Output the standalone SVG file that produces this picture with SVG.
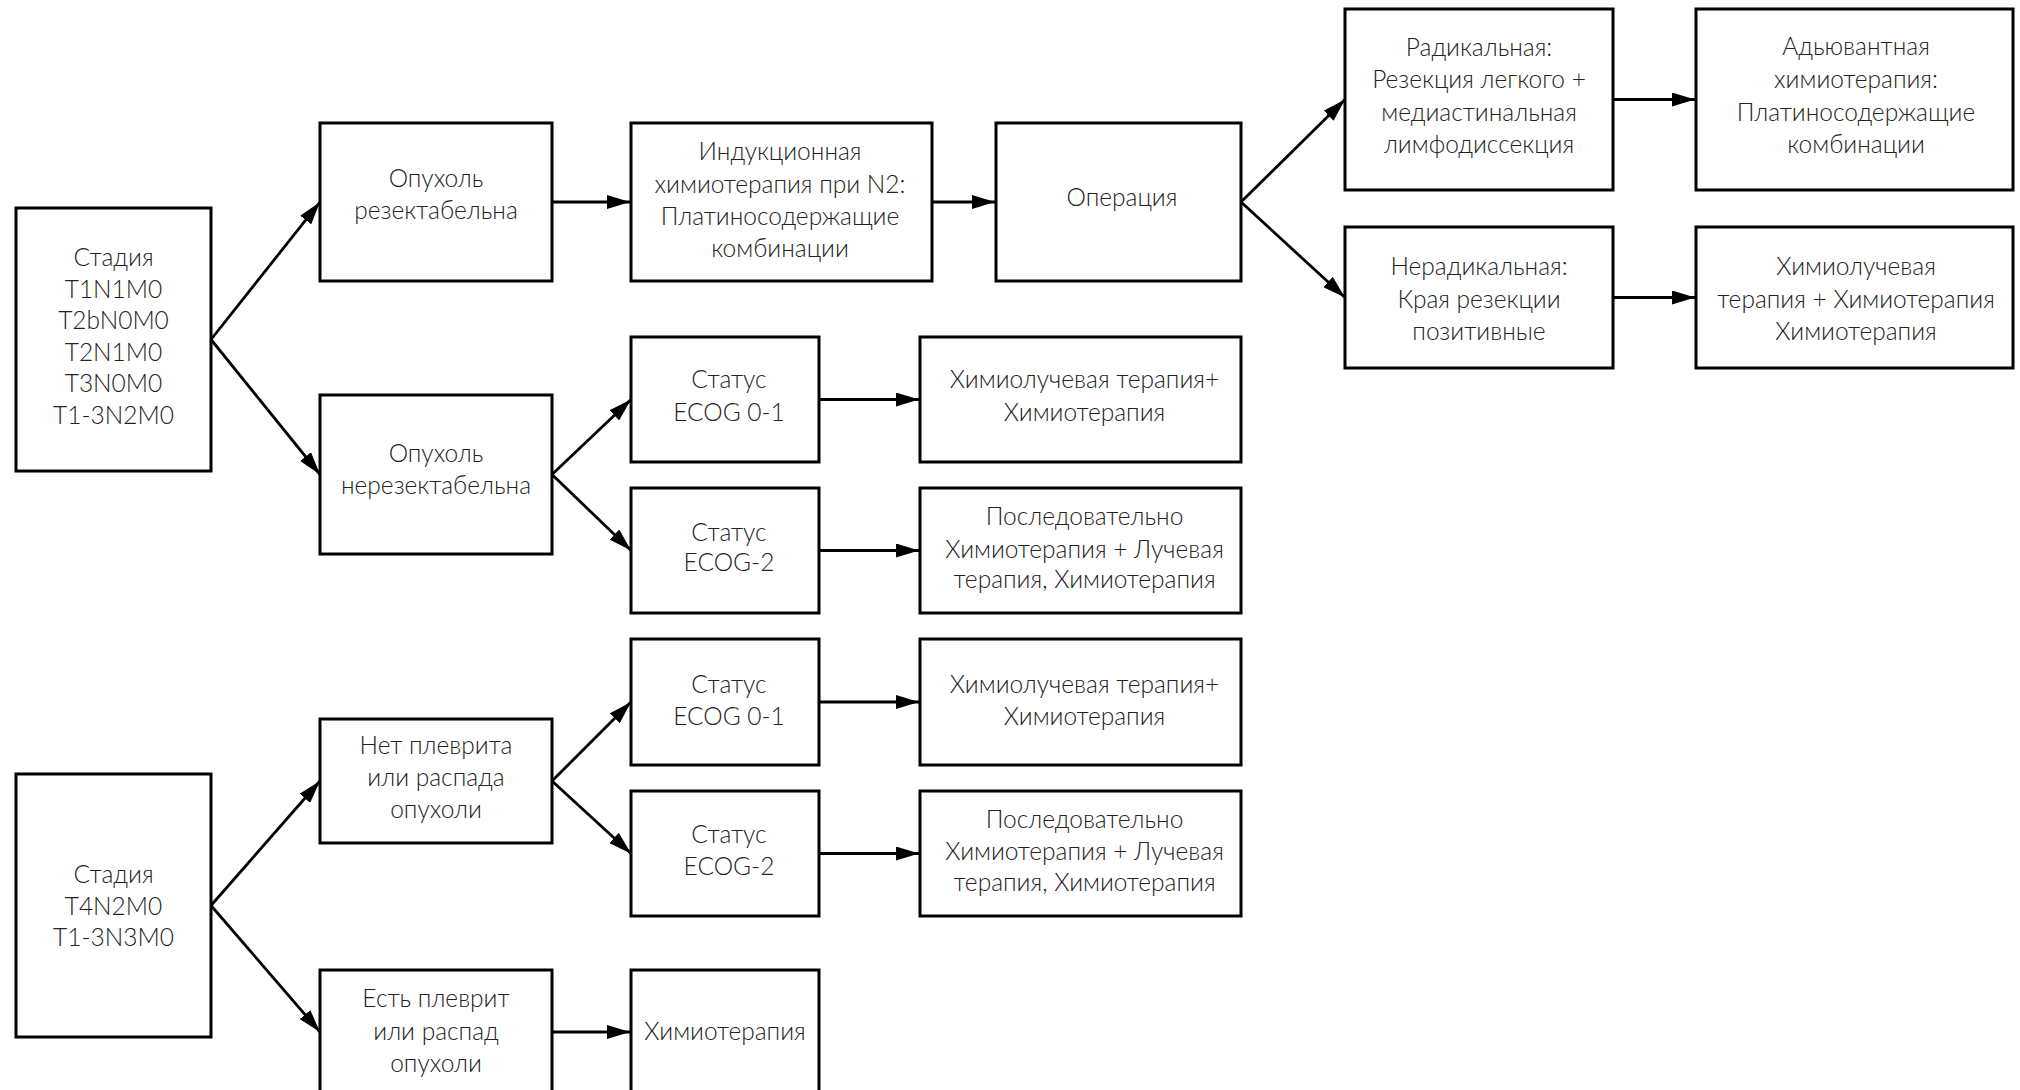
<svg xmlns="http://www.w3.org/2000/svg" width="2020" height="1090" viewBox="0 0 2020 1090">
<style>
.box{fill:#fff;stroke:#000;stroke-width:3}
.t{font-family:Lato,"Open Sans","Liberation Sans",sans-serif;font-weight:300;font-size:24.5px;fill:#222;text-anchor:middle}
.c{stroke:#000;stroke-width:2.8;fill:none;marker-end:url(#arr)}
</style>
<defs>
<marker id="arr" markerWidth="23" markerHeight="14" refX="23" refY="7" orient="auto" markerUnits="userSpaceOnUse">
<path d="M0,0 L23,7 L0,14 z" fill="#000"/>
</marker>
</defs>
<rect width="2020" height="1090" fill="#fff"/>
<g id="connectors">
<line class="c" x1="211" y1="339.5" x2="320" y2="202"/>
<line class="c" x1="211" y1="339.5" x2="320" y2="474.5"/>
<line class="c" x1="552" y1="202" x2="630" y2="202"/>
<line class="c" x1="932" y1="202" x2="995" y2="202"/>
<line class="c" x1="1241" y1="202" x2="1345" y2="99.5"/>
<line class="c" x1="1241" y1="202" x2="1345" y2="297.5"/>
<line class="c" x1="1613" y1="99.5" x2="1695" y2="99.5"/>
<line class="c" x1="1613" y1="297.5" x2="1695" y2="297.5"/>
<line class="c" x1="552" y1="474.5" x2="631" y2="399.5"/>
<line class="c" x1="552" y1="474.5" x2="631" y2="550.5"/>
<line class="c" x1="819" y1="399.5" x2="919" y2="399.5"/>
<line class="c" x1="819" y1="550.5" x2="919" y2="550.5"/>
<line class="c" x1="211" y1="905.5" x2="320" y2="781"/>
<line class="c" x1="211" y1="905.5" x2="320" y2="1032"/>
<line class="c" x1="552" y1="781" x2="631" y2="702"/>
<line class="c" x1="552" y1="781" x2="631" y2="853.5"/>
<line class="c" x1="819" y1="702" x2="919" y2="702"/>
<line class="c" x1="819" y1="853.5" x2="919" y2="853.5"/>
<line class="c" x1="552" y1="1032" x2="630" y2="1032"/>
</g>
<g id="stage1">
<rect class="box" x="16" y="208" width="195" height="263"/>
<text class="t"><tspan x="113.5" y="266">Стадия</tspan><tspan x="113.5" y="297.5">T1N1M0</tspan><tspan x="113.5" y="329">T2bN0M0</tspan><tspan x="113.5" y="360.5">T2N1M0</tspan><tspan x="113.5" y="392">T3N0M0</tspan><tspan x="113.5" y="423.5">T1-3N2M0</tspan></text>
</g>
<g id="resectable">
<rect class="box" x="320" y="123" width="232" height="158"/>
<text class="t"><tspan x="436" y="187">Опухоль</tspan><tspan x="436" y="219">резектабельна</tspan></text>
</g>
<g id="unresectable">
<rect class="box" x="320" y="395" width="232" height="159"/>
<text class="t"><tspan x="436" y="462">Опухоль</tspan><tspan x="436" y="494">нерезектабельна</tspan></text>
</g>
<g id="induction">
<rect class="box" x="631" y="123" width="301" height="158"/>
<text class="t"><tspan x="780" y="160">Индукционная</tspan><tspan x="780" y="192.5">химиотерапия при N2:</tspan><tspan x="780" y="225">Платиносодержащие</tspan><tspan x="780" y="257">комбинации</tspan></text>
</g>
<g id="operation">
<rect class="box" x="996" y="123" width="245" height="158"/>
<text class="t" x="1122" y="206">Операция</text>
</g>
<g id="radical">
<rect class="box" x="1345" y="9" width="268" height="181"/>
<text class="t"><tspan x="1479" y="56">Радикальная:</tspan><tspan x="1479" y="88">Резекция легкого +</tspan><tspan x="1479" y="121">медиастинальная</tspan><tspan x="1479" y="153">лимфодиссекция</tspan></text>
</g>
<g id="adjuvant">
<rect class="box" x="1696" y="9" width="317" height="181"/>
<text class="t"><tspan x="1856" y="55">Адьювантная</tspan><tspan x="1856" y="88">химиотерапия:</tspan><tspan x="1856" y="121">Платиносодержащие</tspan><tspan x="1856" y="153">комбинации</tspan></text>
</g>
<g id="nonradical">
<rect class="box" x="1345" y="227" width="268" height="141"/>
<text class="t"><tspan x="1479" y="275">Нерадикальная:</tspan><tspan x="1479" y="308">Края резекции</tspan><tspan x="1479" y="340">позитивные</tspan></text>
</g>
<g id="chemorad2">
<rect class="box" x="1696" y="227" width="317" height="141"/>
<text class="t"><tspan x="1856" y="275">Химиолучевая</tspan><tspan x="1856" y="308">терапия + Химиотерапия</tspan><tspan x="1856" y="340">Химиотерапия</tspan></text>
</g>
<g id="ecog01a">
<rect class="box" x="631" y="337" width="188" height="125"/>
<text class="t"><tspan x="729" y="388">Статус</tspan><tspan x="729" y="421">ECOG 0-1</tspan></text>
</g>
<g id="chemorad1">
<rect class="box" x="920" y="337" width="321" height="125"/>
<text class="t"><tspan x="1084.5" y="388">Химиолучевая терапия+</tspan><tspan x="1084.5" y="421">Химиотерапия</tspan></text>
</g>
<g id="ecog2a">
<rect class="box" x="631" y="488" width="188" height="125"/>
<text class="t"><tspan x="729" y="541">Статус</tspan><tspan x="729" y="571">ECOG-2</tspan></text>
</g>
<g id="seq1">
<rect class="box" x="920" y="488" width="321" height="125"/>
<text class="t"><tspan x="1084.5" y="525">Последовательно</tspan><tspan x="1084.5" y="558">Химиотерапия + Лучевая</tspan><tspan x="1084.5" y="588">терапия, Химиотерапия</tspan></text>
</g>
<g id="stage2">
<rect class="box" x="16" y="774" width="195" height="263"/>
<text class="t"><tspan x="113.5" y="883">Стадия</tspan><tspan x="113.5" y="915">T4N2M0</tspan><tspan x="113.5" y="946">T1-3N3M0</tspan></text>
</g>
<g id="nopleurisy">
<rect class="box" x="320" y="719" width="232" height="124"/>
<text class="t"><tspan x="436" y="754">Нет плеврита</tspan><tspan x="436" y="786">или распада</tspan><tspan x="436" y="818">опухоли</tspan></text>
</g>
<g id="ecog01b">
<rect class="box" x="631" y="639" width="188" height="126"/>
<text class="t"><tspan x="729" y="693">Статус</tspan><tspan x="729" y="725">ECOG 0-1</tspan></text>
</g>
<g id="chemorad3">
<rect class="box" x="920" y="639" width="321" height="126"/>
<text class="t"><tspan x="1084.5" y="693">Химиолучевая терапия+</tspan><tspan x="1084.5" y="725">Химиотерапия</tspan></text>
</g>
<g id="ecog2b">
<rect class="box" x="631" y="791" width="188" height="125"/>
<text class="t"><tspan x="729" y="843">Статус</tspan><tspan x="729" y="875">ECOG-2</tspan></text>
</g>
<g id="seq2">
<rect class="box" x="920" y="791" width="321" height="125"/>
<text class="t"><tspan x="1084.5" y="828">Последовательно</tspan><tspan x="1084.5" y="860">Химиотерапия + Лучевая</tspan><tspan x="1084.5" y="891">терапия, Химиотерапия</tspan></text>
</g>
<g id="pleurisy">
<rect class="box" x="320" y="970" width="232" height="124"/>
<text class="t"><tspan x="436" y="1007">Есть плеврит</tspan><tspan x="436" y="1040">или распад</tspan><tspan x="436" y="1072">опухоли</tspan></text>
</g>
<g id="chemo">
<rect class="box" x="631" y="970" width="188" height="124"/>
<text class="t" x="725" y="1040">Химиотерапия</text>
</g>
</svg>
